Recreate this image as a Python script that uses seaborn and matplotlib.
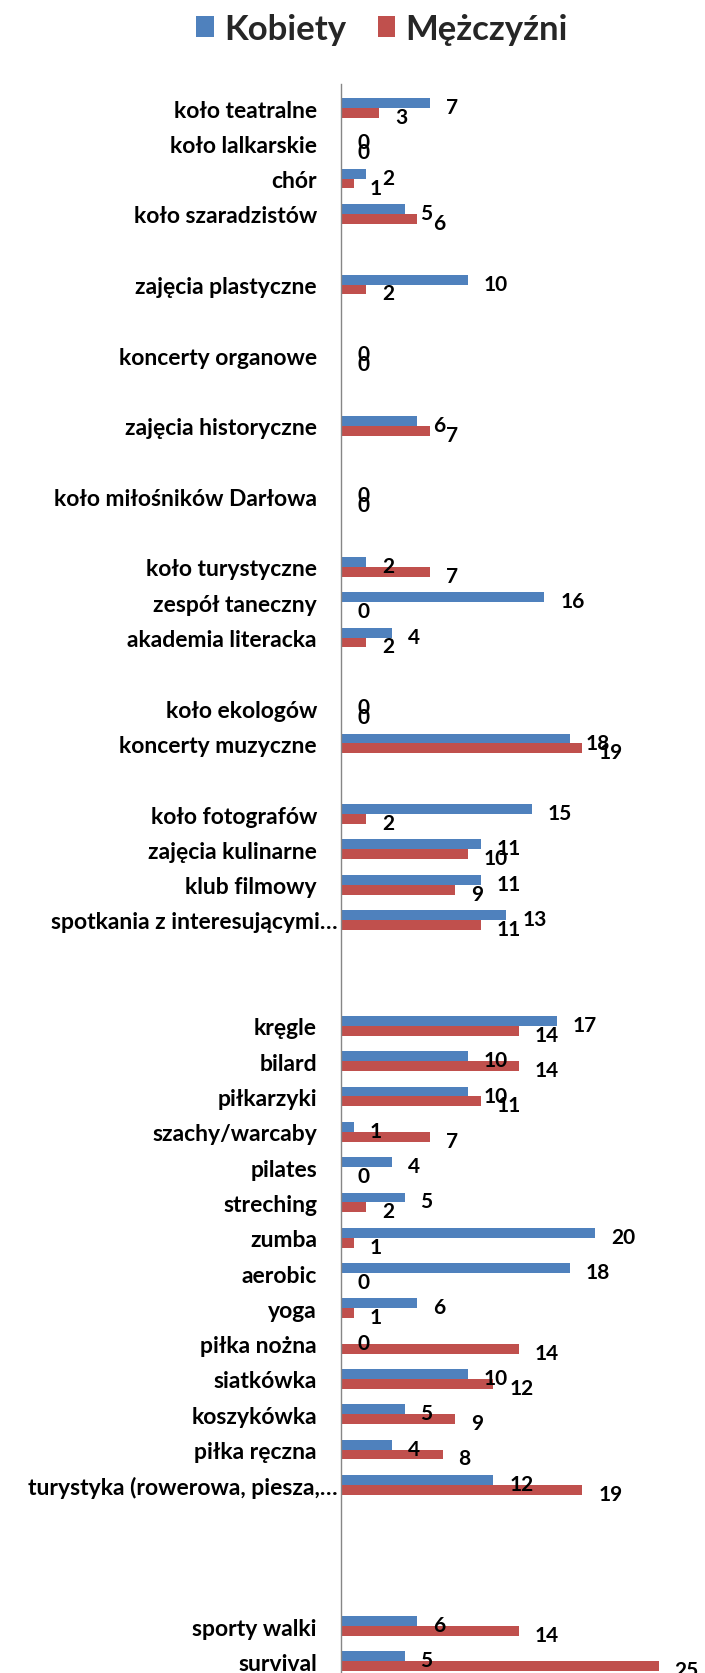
import matplotlib
matplotlib.use("Agg")
import matplotlib.pyplot as plt
from matplotlib.transforms import ScaledTranslation
import seaborn as sns
import pandas as pd

# ---- data ----
categories = [
    "koło teatralne", "koło lalkarskie", "chór", "koło szaradzistów", None,
    "zajęcia plastyczne", None, "koncerty organowe", None,
    "zajęcia historyczne", None, "koło miłośników Darłowa", None,
    "koło turystyczne", "zespół taneczny", "akademia literacka", None,
    "koło ekologów", "koncerty muzyczne", None,
    "koło fotografów", "zajęcia kulinarne", "klub filmowy",
    "spotkania z interesującymi…", None, None,
    "kręgle", "bilard", "piłkarzyki", "szachy/warcaby", "pilates", "streching",
    "zumba", "aerobic", "yoga", "piłka nożna", "siatkówka", "koszykówka",
    "piłka ręczna", "turystyka (rowerowa, piesza,…", None, None, None,
    "sporty walki", "survival",
]
kobiety = [7, 0, 2, 5, 10, 0, 6, 0, 2, 16, 4, 0, 18, 15, 11, 11, 13,
           17, 10, 10, 1, 4, 5, 20, 18, 6, 0, 10, 5, 4, 12, 6, 5]
mezczyzni = [3, 0, 1, 6, 2, 0, 7, 0, 7, 0, 2, 0, 19, 2, 10, 9, 11,
             14, 14, 11, 7, 0, 2, 1, 0, 1, 14, 12, 9, 8, 19, 14, 25]
series = ["Kobiety", "Mężczyźni"]
colors = ["#4F81BD", "#C0504D"]
truncated = ["spotkania z interesującymi…", "turystyka (rowerowa, piesza,…"]

# ---- build long table ----
order = [c if c else f"_gap{i}" for i, c in enumerate(categories)]
named = [c for c in categories if c]
df = pd.DataFrame({
    "kategoria": named * 2,
    "wartosc": kobiety + mezczyzni,
    "plec": [series[0]] * len(named) + [series[1]] * len(named),
})

sns.set_theme(style="white")
plt.rcParams["font.family"] = ["Lato", "DejaVu Sans"]
plt.rcParams["font.weight"] = "bold"

W, H, DPI = 705, 1674, 100
fig = plt.figure(figsize=(W / DPI, H / DPI), dpi=DPI)
fig.patch.set_facecolor("white")

ax_left = 341 / W
ax_top = 85 / H
ax = fig.add_axes([ax_left, 0.0, 1 - ax_left, 1 - ax_top])

sns.barplot(data=df, y="kategoria", x="wartosc", hue="plec",
            order=order, hue_order=series, palette=colors,
            orient="h", errorbar=None, width=0.56, saturation=1,
            ax=ax, linewidth=0)

# scales: 12.7 px per unit, rows 35.3 px
ax.set_xlim(0, (W - 341) / 12.7)
ax.set_ylim(44.33, -0.68)

for side in ["top", "right", "bottom"]:
    ax.spines[side].set_visible(False)
ax.spines["left"].set_color("#868686")
ax.spines["left"].set_linewidth(1.0)
ax.set_xticks([])
ax.set_xlabel("")
ax.set_ylabel("")
ax.tick_params(axis="y", length=0, pad=17.3)
ax.set_yticks(range(len(order)))
ax.set_yticklabels([c if c else "" for c in categories],
                   fontsize=16.5, fontweight="bold", color="black")
for lab in ax.get_yticklabels():
    if lab.get_text() in truncated:
        lab.set_transform(lab.get_transform()
                          + ScaledTranslation(21 / DPI, 0, fig.dpi_scale_trans))

# data labels
for cont in ax.containers:
    for p in cont.patches:
        w = p.get_width()
        yc = p.get_y() + p.get_height() / 2
        ax.annotate(f"{w:g}", xy=(w, yc), xytext=(16, -4),
                    textcoords="offset pixels", ha="left", va="center",
                    fontsize=15, fontweight="bold", color="black",
                    annotation_clip=False)

# legend
handles, labels = ax.get_legend_handles_labels()
if ax.get_legend() is not None:
    ax.get_legend().remove()
fig.legend(handles, labels, loc="center",
           bbox_to_anchor=(382 / W, 1 - 30 / H), ncol=2, frameon=False,
           prop={"size": 25, "weight": "bold"},
           handlelength=0.5, handleheight=0.55, handletextpad=0.3,
           columnspacing=0.9)

fig.savefig("out.png", dpi=DPI, facecolor="white")
